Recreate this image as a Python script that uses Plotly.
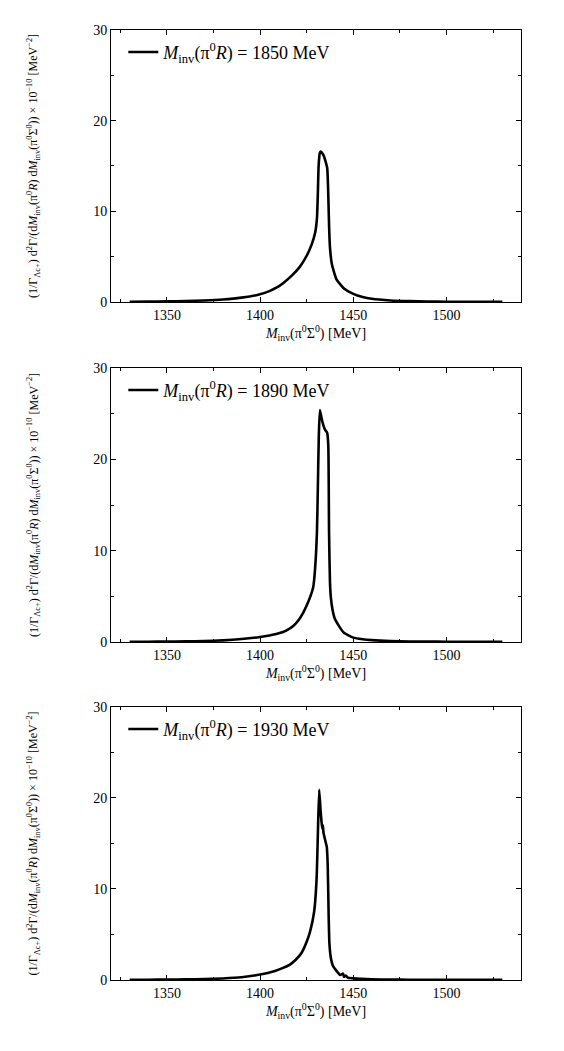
import plotly.graph_objects as go
from plotly.subplots import make_subplots

# invariant mass of pi0 R for each panel [MeV]
mass_R = [1850, 1890, 1930]

# M_inv(pi0 Sigma0) [MeV] and distribution [x 10^-10 MeV^-2]
x_1850 = [1330, 1340, 1350, 1360, 1370, 1380, 1390, 1399, 1405, 1409, 1412.5, 1417, 1421.4, 1425, 1427.6,
          1429.5, 1430.5, 1431, 1431.4, 1432, 1432.5, 1433, 1434, 1435, 1436, 1436.5, 1437, 1437.5,
          1438.5, 1441, 1445, 1450, 1455, 1460, 1470, 1480, 1490, 1500, 1515, 1530]
y_1850 = [0.03, 0.05, 0.07, 0.11, 0.17, 0.28, 0.48, 0.8, 1.2, 1.6, 2.1, 2.9, 3.9, 5.1, 6.3,
          7.6, 9.2, 12.0, 15.0, 16.4, 16.6, 16.5, 16.2, 15.6, 14.8, 12.5, 8.5, 6.0,
          4.2, 2.5, 1.5, 0.9, 0.55, 0.35, 0.17, 0.09, 0.05, 0.03, 0.02, 0.01]

x_1890 = [1330, 1340, 1350, 1360, 1370, 1380, 1390, 1400, 1405, 1410, 1414, 1417.8, 1421.4, 1425,
          1428.5, 1429.5, 1430.5, 1431, 1431.5, 1432.1, 1433, 1434, 1435, 1436, 1436.6, 1437,
          1437.5, 1438, 1439, 1440, 1442.8, 1445, 1450, 1455, 1460, 1470, 1480, 1490, 1500, 1515, 1530]
y_1890 = [0.02, 0.03, 0.05, 0.07, 0.11, 0.18, 0.32, 0.55, 0.72, 0.95, 1.25, 1.75, 2.6, 4.0,
          6.0, 8.0, 12.0, 17.0, 22.5, 25.4, 24.5, 23.7, 23.2, 22.9, 21.5, 12.0,
          6.5, 4.8, 3.4, 2.6, 1.6, 1.0, 0.48, 0.3, 0.2, 0.1, 0.06, 0.04, 0.03, 0.02, 0.01]

x_1930 = [1330, 1340, 1350, 1360, 1370, 1380, 1390, 1400, 1408, 1412, 1416, 1419, 1422.3, 1425, 1426.8, 1429,
          1430.3, 1431, 1431.7, 1432.5, 1433, 1433.4, 1433.7, 1434, 1435, 1435.8, 1436.3, 1436.8,
          1437.2, 1438, 1439, 1441, 1443, 1444.5, 1445, 1446, 1447, 1450, 1460, 1470, 1480,
          1490, 1500, 1515, 1530]
y_1930 = [0.02, 0.03, 0.05, 0.07, 0.1, 0.17, 0.3, 0.6, 1.0, 1.3, 1.7, 2.2, 3.0, 4.2, 5.3, 7.5,
          11.0, 16.0, 20.9, 18.5, 17.3, 16.6, 17.0, 16.2, 15.3, 14.6, 12.5, 7.0,
          4.0, 2.4, 1.6, 1.0, 0.55, 0.7, 0.35, 0.5, 0.25, 0.18, 0.08, 0.05, 0.03,
          0.02, 0.02, 0.01, 0.01]

curves = [(x_1850, y_1850), (x_1890, y_1890), (x_1930, y_1930)]

SERIF = "Liberation Serif"
xtitle = "<i>M</i><sub>inv</sub>(π<sup>0</sup>Σ<sup>0</sup>) [MeV]"
ytitle = ("(1/Γ<sub>Λc+</sub>) d<sup>2</sup>Γ/(d<i>M</i><sub>inv</sub>(π<sup>0</sup><i>R</i>) "
          "d<i>M</i><sub>inv</sub>(π<sup>0</sup>Σ<sup>0</sup>)) × 10<sup>−10</sup> [MeV<sup>−2</sup>]")

fig = make_subplots(rows=3, cols=1)

# panel domains (paper fractions, bottom to top)
domains = [[0.7137, 1.0], [0.3558, 0.6442], [0.0, 0.2874]]
legends = ["legend", "legend2", "legend3"]

for i, (m, (xs, ys)) in enumerate(zip(mass_R, curves)):
    fig.add_trace(go.Scatter(
        x=xs, y=ys, mode="lines",
        line=dict(color="black", width=2.6, shape="spline", smoothing=0.5),
        name="<i>M</i><sub>inv</sub>(π<sup>0</sup><i>R</i>) = %d MeV" % m,
        legend=legends[i],
    ), row=i + 1, col=1)

axis_common = dict(
    showline=True, linecolor="black", linewidth=1, mirror="ticks",
    ticks="inside", ticklen=5, tickwidth=1, tickcolor="black",
    showgrid=False, zeroline=False, automargin=False,
    tickfont=dict(family=SERIF, size=14, color="black"),
)

for i in range(3):
    fig.update_xaxes(
        range=[1320, 1540], tick0=1350, dtick=50,
        minor=dict(ticks="inside", dtick=25, ticklen=3, tickcolor="black"),
        title=dict(text=xtitle, font=dict(family=SERIF, size=14, color="black"), standoff=2),
        **axis_common, row=i + 1, col=1)
    fig.update_yaxes(
        range=[0, 30], tick0=0, dtick=10, domain=domains[i],
        minor=dict(ticks="inside", dtick=5, ticklen=3, tickcolor="black"),
        title=dict(text=ytitle, font=dict(family=SERIF, size=12, color="black"), standoff=52),
        **axis_common, row=i + 1, col=1)

legend_style = dict(
    x=0.03, xanchor="left", yanchor="top",
    bgcolor="rgba(0,0,0,0)", borderwidth=0,
    font=dict(family=SERIF, size=18, color="black"),
)
# page body adds 8px, so the figure is 8px smaller than the window
fig.update_layout(
    width=556, height=1043,
    margin=dict(l=103, r=43, t=22, b=71),
    paper_bgcolor="white", plot_bgcolor="white",
    font=dict(family=SERIF, color="black"),
    showlegend=True,
    legend=dict(y=domains[0][1] - 0.004, **legend_style),
    legend2=dict(y=domains[1][1] - 0.004, **legend_style),
    legend3=dict(y=domains[2][1] - 0.004, **legend_style),
)

fig.write_html("out.html")
